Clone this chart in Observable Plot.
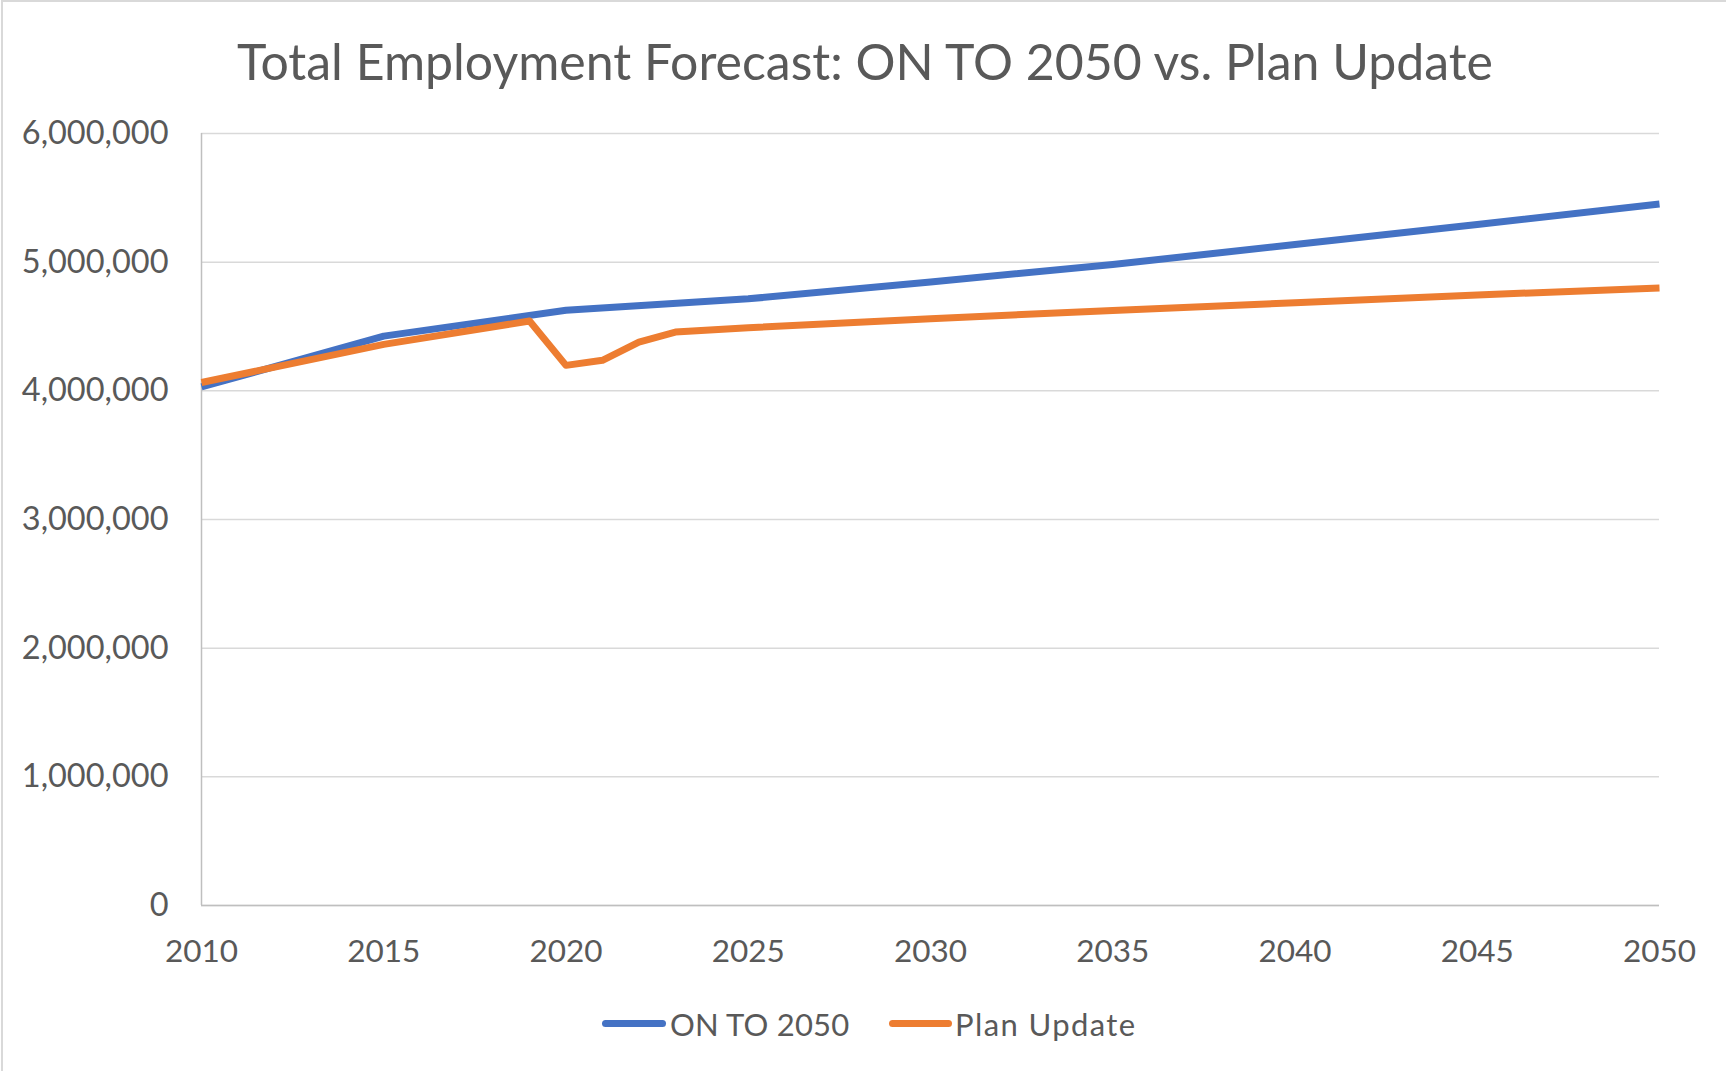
<!DOCTYPE html>
<html>
<head>
<meta charset="utf-8">
<script src="https://cdn.jsdelivr.net/npm/d3@7"></script>
<script src="https://cdn.jsdelivr.net/npm/@observablehq/plot@0.6"></script>
<style>
  html, body { margin: 0; padding: 0; background: #fff; }
  #chart { position: relative; width: 1726px; height: 1071px; overflow: hidden; font-family: Lato, "Open Sans", sans-serif; color: #595959; }
  #frame { position: absolute; left: 1px; top: 0px; width: 1740px; height: 1100px; border-left: 2px solid #D9D9D9; border-top: 2px solid #D9D9D9; box-sizing: border-box; }
  #title { position: absolute; left: 0; width: 1730px; top: 31px; text-align: center; font-size: 50px; line-height: 60px; color: #595959; }
  #plot { position: absolute; left: 0; top: 100px; }
  .leg { position: absolute; top: 1004px; font-size: 31px; line-height: 40px; color: #595959; white-space: nowrap; }
  .sw { position: absolute; top: 1020px; height: 7px; border-radius: 4px; }
</style>
</head>
<body>
<div id="chart">
  <div id="frame"></div>
  <div id="title"></div>
  <div id="plot"></div>
</div>
<script>
const title = "Total Employment Forecast: ON TO 2050 vs. Plan Update";
const seriesNames = ["ON TO 2050", "Plan Update"];
const seriesColors = ["#4472C4", "#ED7D31"];

const onto2050Years  = [2010, 2015, 2020, 2025, 2030, 2035, 2040, 2045, 2050];
const onto2050Values = [4030000, 4425000, 4626000, 4715000, 4846000, 4982000, 5137000, 5292000, 5452000];

const planYears  = [2010, 2015, 2019, 2020, 2021, 2022, 2023, 2025, 2030, 2035, 2040, 2045, 2050];
const planValues = [4065000, 4361000, 4543000, 4198000, 4237000, 4379000, 4457000, 4490000, 4561000, 4625000, 4685000, 4745000, 4800000];

const xTicks = [2010, 2015, 2020, 2025, 2030, 2035, 2040, 2045, 2050];
const yTicks = [0, 1000000, 2000000, 3000000, 4000000, 5000000, 6000000];

const data = [
  ...onto2050Years.map((y, i) => ({year: y, value: onto2050Values[i], series: seriesNames[0]})),
  ...planYears.map((y, i) => ({year: y, value: planValues[i], series: seriesNames[1]}))
];

document.getElementById("title").textContent = title;

const fmt = d3.format(",");
const plot = Plot.plot({
  width: 1726,
  height: 880,
  marginLeft: 201,
  marginRight: 67,
  marginTop: 33,
  marginBottom: 75,
  style: {fontFamily: "Lato, 'Open Sans', sans-serif", fontSize: "31px", color: "#595959", background: "transparent"},
  x: {domain: [2010, 2050], ticks: xTicks, tickFormat: "d", label: null},
  y: {domain: [0, 6000000], ticks: yTicks, tickFormat: fmt, label: null},
  color: {domain: seriesNames, range: seriesColors},
  marks: [
    Plot.gridY(yTicks, {stroke: "#D9D9D9", strokeOpacity: 1, strokeWidth: 1.5}),
    Plot.ruleX([2010], {stroke: "#BFBFBF", strokeWidth: 1.5}),
    Plot.ruleY([0], {stroke: "#BFBFBF", strokeWidth: 1.5}),
    Plot.axisY(yTicks, {tickSize: 0, tickPadding: 33, tickFormat: fmt, fontSize: 32.5, fill: "#595959"}),
    Plot.axisX(xTicks, {tickSize: 0, tickPadding: 34, tickFormat: "d", fontSize: 31.5, fill: "#595959"}),
    Plot.line(data, {x: "year", y: "value", z: "series", stroke: "series", strokeWidth: 7, strokeLinejoin: "round", strokeLinecap: "butt"})
  ]
});
document.getElementById("plot").appendChild(plot);

// Legend
const chart = document.getElementById("chart");
const legendItems = [
  {name: seriesNames[0], color: seriesColors[0], swLeft: 602, swWidth: 64, textLeft: 670, spacing: 0.2},
  {name: seriesNames[1], color: seriesColors[1], swLeft: 889, swWidth: 63, textLeft: 955, spacing: 1.4}
];
legendItems.forEach(it => {
  const sw = document.createElement("div");
  sw.className = "sw";
  sw.style.left = it.swLeft + "px";
  sw.style.width = it.swWidth + "px";
  sw.style.background = it.color;
  chart.appendChild(sw);
  const t = document.createElement("div");
  t.className = "leg";
  t.style.left = it.textLeft + "px";
  t.style.letterSpacing = it.spacing + "px";
  t.textContent = it.name;
  chart.appendChild(t);
});
</script>
</body>
</html>
